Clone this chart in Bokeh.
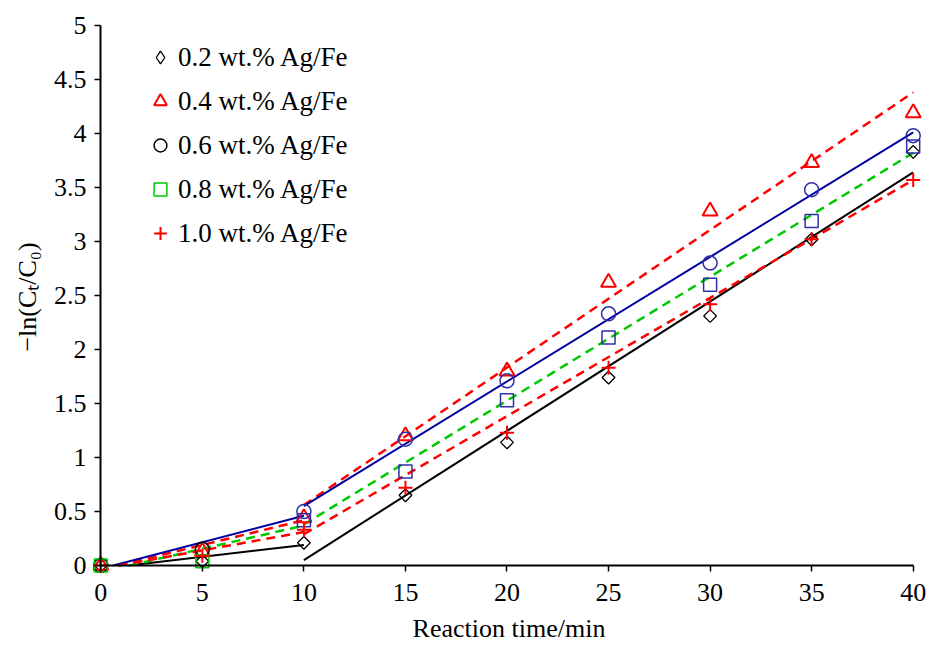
import math
from bokeh.plotting import figure
from bokeh.models import (Range1d, FixedTicker, Legend, LegendItem,
                          ColumnDataSource, LinearAxis)
from bokeh.embed import file_html
from bokeh.resources import INLINE

# ---------------- data ----------------
time_min = [0, 5, 10, 15, 20, 25, 30, 35, 40]
ag_02 = [0, 0.04, 0.21, 0.65, 1.14, 1.74, 2.31, 3.02, 3.83]
ag_04 = [0, 0.13, 0.44, 1.20, 1.80, 2.62, 3.28, 3.73, 4.19]
ag_06 = [0, 0.15, 0.50, 1.17, 1.71, 2.33, 2.80, 3.48, 3.98]
ag_08 = [0, 0.04, 0.42, 0.87, 1.53, 2.11, 2.60, 3.19, 3.88]
ag_10 = [0, 0.09, 0.33, 0.72, 1.23, 1.83, 2.42, 3.02, 3.57]
series_labels = ["0.2 wt.% Ag/Fe", "0.4 wt.% Ag/Fe", "0.6 wt.% Ag/Fe",
                 "0.8 wt.% Ag/Fe", "1.0 wt.% Ag/Fe"]

# linear trend lines (two stages), values read at segment ends
early_t = [0, 10]
late_t = [10, 40]
early_fit_at0 = [-0.03, -0.04, -0.03, -0.06, -0.03]
early_fit_at10 = [0.19, 0.42, 0.46, 0.37, 0.31]
late_fit_at10 = [0.05, 0.56, 0.55, 0.38, 0.29]
late_fit_at40 = [3.64, 4.38, 4.01, 3.82, 3.57]

x_ticks = [0, 5, 10, 15, 20, 25, 30, 35, 40]
y_ticks = [0, 0.5, 1, 1.5, 2, 2.5, 3, 3.5, 4, 4.5, 5]
y_tick_labels = ["0", "0.5", "1", "1.5", "2", "2.5", "3", "3.5", "4", "4.5", "5"]
x_title = "Reaction time/min"
y_title = "\u2212ln(C\u209c/C\u2080)"

# ---------------- styles ----------------
FONT = "Liberation Serif"
RED = "#FF0000"
GREEN = "#00C800"
NAVY = "#0000A0"
MBLUE = "#2E2EA8"

line_colors = ["black", RED, NAVY, GREEN, RED]
line_dashes = ["solid", "9 6", "solid", "9 6", "9 6"]
line_widths = [2, 2.5, 2, 2.5, 2.5]

p = figure(width=928, height=645,
           x_range=Range1d(-0.409, 40.606), y_range=Range1d(-0.074, 5.046),
           output_backend="svg", toolbar_location=None,
           min_border_left=92, min_border_right=3,
           min_border_top=20, min_border_bottom=72)
p.outline_line_color = None
p.xgrid.visible = False
p.ygrid.visible = False
p.background_fill_color = "white"
p.border_fill_color = "white"


def clip_to_zero(t0, y0, t1, y1):
    if y0 >= 0:
        return t0, y0
    return t0 + (0 - y0) * (t1 - t0) / (y1 - y0), 0.0


# trend lines
for i in range(5):
    ts, ys = clip_to_zero(early_t[0], early_fit_at0[i], early_t[1], early_fit_at10[i])
    p.line([ts, early_t[1]], [ys, early_fit_at10[i]], line_color=line_colors[i],
           line_dash=line_dashes[i], line_width=line_widths[i])
    p.line(late_t, [late_fit_at10[i], late_fit_at40[i]], line_color=line_colors[i],
           line_dash=line_dashes[i], line_width=line_widths[i])

# markers
r02 = p.scatter(time_min, ag_02, marker="square", angle=math.pi / 4, size=9,
                fill_color=None, line_color="black", line_width=1.3)
# legend key for the diamond series (not drawn in the plot area)
r02_key = p.scatter(time_min, ag_02, marker="diamond", size=16, visible=False,
                    fill_color=None, line_color="black", line_width=1.3)
r04 = p.scatter(time_min, ag_04, marker="triangle", size=15,
                fill_color=None, line_color=RED, line_width=2)
circ_colors = ["black" if t < 10 else MBLUE for t in time_min]
src06 = ColumnDataSource(dict(x=time_min, y=ag_06, c=circ_colors))
r06 = p.scatter("x", "y", source=src06, marker="circle", size=14,
                fill_color=None, line_color="c", line_width=1.5)
sq_colors = [GREEN if t < 10 else MBLUE for t in time_min]
src08 = ColumnDataSource(dict(x=time_min, y=ag_08, c=sq_colors))
r08 = p.scatter("x", "y", source=src08, marker="square", size=13,
                fill_color=None, line_color="c", line_width=1.5)
r10 = p.scatter(time_min, ag_10, marker="cross", size=14,
                line_color=RED, line_width=2)

# label-only axes in the side panels
xa = p.xaxis[0]
ya = p.yaxis[0]
for ax in (xa, ya):
    ax.axis_line_color = None
    ax.major_tick_line_color = None
    ax.minor_tick_line_color = None
    ax.major_tick_out = 0
    ax.major_tick_in = 0
    ax.minor_tick_out = 0
    ax.minor_tick_in = 0
    ax.major_label_text_font = FONT
    ax.major_label_text_font_size = "26px"
    ax.major_label_text_color = "black"
    ax.axis_label_text_font = FONT
    ax.axis_label_text_font_size = "26px"
    ax.axis_label_text_font_style = "normal"
    ax.axis_label_text_color = "black"
xa.bounds = (0, 40)
ya.bounds = (0, 5)
xa.ticker = FixedTicker(ticks=x_ticks)
ya.ticker = FixedTicker(ticks=y_ticks)
ya.major_label_overrides = {float(t): s for t, s in zip(y_ticks, y_tick_labels)}
xa.axis_label = x_title
ya.axis_label = y_title
xa.major_label_standoff = 10
ya.major_label_standoff = 6
xa.axis_label_standoff = 10
ya.axis_label_standoff = 9

# axis lines and ticks drawn at the data origin
for side, bnds, ticks in (("below", (0, 40), x_ticks), ("left", (0, 5), y_ticks)):
    ax2 = LinearAxis(fixed_location=0, bounds=bnds, ticker=FixedTicker(ticks=ticks),
                     axis_line_color="black", axis_line_width=2,
                     major_tick_line_color="black", major_tick_line_width=1.5,
                     major_tick_out=6, major_tick_in=0,
                     minor_tick_line_color=None, major_label_text_color=None)
    p.add_layout(ax2, side)

legend = Legend(items=[LegendItem(label=series_labels[i], renderers=[r])
                       for i, r in enumerate([r02_key, r04, r06, r08, r10])],
                location=(52, 318), border_line_color=None,
                background_fill_alpha=0, padding=10, spacing=0, margin=0,
                label_height=44, glyph_width=32, glyph_height=32,
                label_standoff=2, label_text_font=FONT,
                label_text_font_size="27px", label_text_color="black",
                inactive_fill_alpha=0, click_policy="none")
p.add_layout(legend)

open("out.html", "w").write(file_html(p, INLINE))
